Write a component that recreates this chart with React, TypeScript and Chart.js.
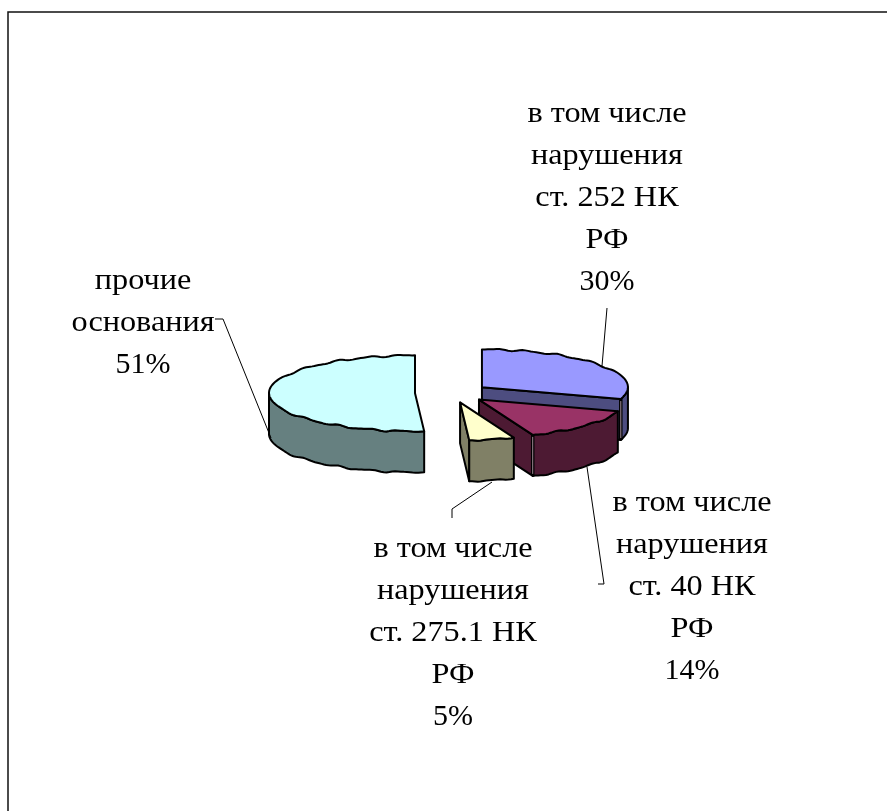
import React, { useEffect, useRef } from "react";
import { Chart, registerables } from "chart.js";

Chart.register(...registerables);

// Shares of the grounds, in percent, clockwise from twelve o'clock.
const sliceValues = [30, 14, 5, 51];
const sliceLabels = [
  ["в том числе", "нарушения", "ст. 252 НК", "РФ"],
  ["в том числе", "нарушения", "ст. 40 НК", "РФ"],
  ["в том числе", "нарушения", "ст. 275.1 НК", "РФ"],
  ["прочие", "основания"],
];
const topColors = ["#9999FF", "#993366", "#FFFFCC", "#CCFFFF"];
const wallColors = ["#4D4D80", "#4D1A33", "#808066", "#668080"];

// Where each caption sits and how its leader line runs.
const captionCentres = [607, 692, 453, 143];
const captionFirstLines = [114, 503, 549, 281];
const leaderPaths = [
  [[607, 308], [602, 366]],
  [[587, 467], [604, 584], [598, 584]],
  [[492, 482], [452, 509], [452, 518]],
  [[215, 319], [223, 319], [271, 438]],
];

const SQUASH = 0.26;
const DEPTH = 41;
const EXPLODE = 37;
const LINE_GAP = 42;
const TEXT_STRETCH = 1.075;

// The rim is a fine polyline with a slight ripple, like an old metafile outline.
const rimPath = (x: number, y: number, rx: number, ry: number, a0: number, a1: number) => {
  const steps = Math.max(2, Math.round(Math.abs(a1 - a0) / 0.02));
  const pts: number[][] = [];
  for (let i = 0; i <= steps; i++) {
    const a = a0 + ((a1 - a0) * i) / steps;
    const px = x + rx * Math.sin(a);
    const py = y - ry * Math.cos(a);
    const edgeFade = Math.min(1, Math.min(i, steps - i) / 4);
    const ripple = (Math.sin(px / 5) * 0.7 + Math.sin(px / 2.9 + 1) * 0.3) * edgeFade;
    pts.push([px, py + ripple]);
  }
  return pts;
};
const fillPoly = (ctx: CanvasRenderingContext2D, pts: number[][], fill: string) => {
  ctx.beginPath();
  pts.forEach(([px, py], i) => (i ? ctx.lineTo(px, py) : ctx.moveTo(px, py)));
  ctx.closePath();
  ctx.fillStyle = fill;
  ctx.fill();
  ctx.stroke();
};

const tiltedPie = {
  id: "tiltedPie",
  beforeDatasetsDraw(chart: any) {
    const ctx: CanvasRenderingContext2D = chart.ctx;
    const arcs = chart.getDatasetMeta(0).data;
    const order = arcs
      .map((_: any, i: number) => i)
      .sort((p: number, q: number) => {
        const mid = (k: number) => (arcs[k].startAngle + arcs[k].endAngle) / 2 + Math.PI / 2;
        return -Math.cos(mid(p)) - -Math.cos(mid(q));
      });

    ctx.save();
    ctx.strokeStyle = "#000";
    ctx.lineWidth = 2;
    ctx.lineJoin = "round";
    for (const i of order) {
      const arc = arcs[i];
      const a0 = arc.startAngle + Math.PI / 2;
      const a1 = arc.endAngle + Math.PI / 2;
      const mid = (a0 + a1) / 2;
      const rx = arc.outerRadius;
      const ry = rx * SQUASH;
      const ax = arc.x + EXPLODE * Math.sin(mid);
      const ay = arc.y - EXPLODE * SQUASH * Math.cos(mid);
      const walls = wallColors[i];

      // Radial walls that face the viewer.
      const edge = (a: number) => {
        const [ex, ey] = [ax + rx * Math.sin(a), ay - ry * Math.cos(a)];
        fillPoly(ctx, [[ax, ay], [ex, ey], [ex, ey + DEPTH], [ax, ay + DEPTH]], walls);
      };
      if (Math.sin(a0) < -1e-6) edge(a0);
      if (Math.sin(a1) > 1e-6) edge(a1);

      // Outer wall: the part of the rim on the near half of the ellipse.
      const w0 = Math.max(a0, Math.PI / 2);
      const w1 = Math.min(a1, (3 * Math.PI) / 2);
      if (w1 > w0) {
        const rim = rimPath(ax, ay, rx, ry, w0, w1);
        const lower = rim.map(([px, py]) => [px, py + DEPTH]).reverse();
        fillPoly(ctx, [...rim, ...lower], walls);
      }

      // Thin pale seam where a broad slice's radial and outer walls meet.
      if (a1 - a0 > 0.5 && a1 < Math.PI && a1 > Math.PI / 2) {
        const sx = ax + rx * Math.sin(a1);
        const sy = ay - ry * Math.cos(a1);
        ctx.save();
        ctx.lineWidth = 3.5;
        ctx.beginPath();
        ctx.moveTo(sx, sy);
        ctx.lineTo(sx, sy + DEPTH);
        ctx.stroke();
        ctx.strokeStyle = "#A08C96";
        ctx.lineWidth = 1;
        ctx.beginPath();
        ctx.moveTo(sx, sy + 2);
        ctx.lineTo(sx, sy + DEPTH - 2);
        ctx.stroke();
        ctx.restore();
      }

      // Top face.
      fillPoly(ctx, [[ax, ay], ...rimPath(ax, ay, rx, ry, a0, a1)], topColors[i]);
    }
    ctx.restore();
    return false;
  },
  afterDraw(chart: any) {
    const ctx: CanvasRenderingContext2D = chart.ctx as any;
    const total = sliceValues.reduce((s, v) => s + v, 0);
    ctx.save();

    // Outer frame, open past the right and bottom of the page.
    ctx.strokeStyle = "#111";
    ctx.lineWidth = 1.5;
    ctx.strokeRect(8, 12, 1000, 1000);

    ctx.strokeStyle = "#000";
    ctx.lineWidth = 1;
    leaderPaths.forEach((path) => {
      ctx.beginPath();
      path.forEach(([px, py], i) => (i ? ctx.lineTo(px, py) : ctx.moveTo(px, py)));
      ctx.stroke();
    });

    ctx.fillStyle = "#000";
    ctx.font = '30px "Liberation Serif"';
    ctx.textAlign = "center";
    ctx.textBaseline = "middle";
    sliceLabels.forEach((lines, i) => {
      const pct = Math.round((sliceValues[i] / total) * 100) + "%";
      const cx = captionCentres[i];
      const top = captionFirstLines[i];
      lines.forEach((line, k) => {
        // Cyrillic captions run slightly wider than the digits.
        ctx.save();
        ctx.translate(cx, top + k * LINE_GAP);
        ctx.scale(TEXT_STRETCH, 1);
        ctx.fillText(line, 0, 0);
        ctx.restore();
      });
      ctx.fillText(pct, cx, top + lines.length * LINE_GAP);
    });
    ctx.restore();
  },
};

export default function App() {
  const ref = useRef<HTMLCanvasElement>(null);
  useEffect(() => {
    const CX = 452;
    const CY = 393;
    const R = 147;
    const chart = new Chart(ref.current!, {
      type: "pie",
      data: {
        labels: sliceLabels.map((l) => l.join(" ")),
        datasets: [{ data: sliceValues, backgroundColor: topColors, borderColor: "#000" }],
      },
      options: {
        responsive: false,
        animation: false,
        layout: {
          padding: { left: CX - R, right: 887 - CX - R, top: CY - R, bottom: 811 - CY - R },
        },
        plugins: { legend: { display: false }, tooltip: { enabled: false } },
      },
      plugins: [tiltedPie],
    });
    return () => chart.destroy();
  }, []);
  return (
    <canvas
      ref={ref}
      width={887}
      height={811}
      style={{ position: "fixed", left: 0, top: 0, display: "block", background: "#fff" }}
    />
  );
}
